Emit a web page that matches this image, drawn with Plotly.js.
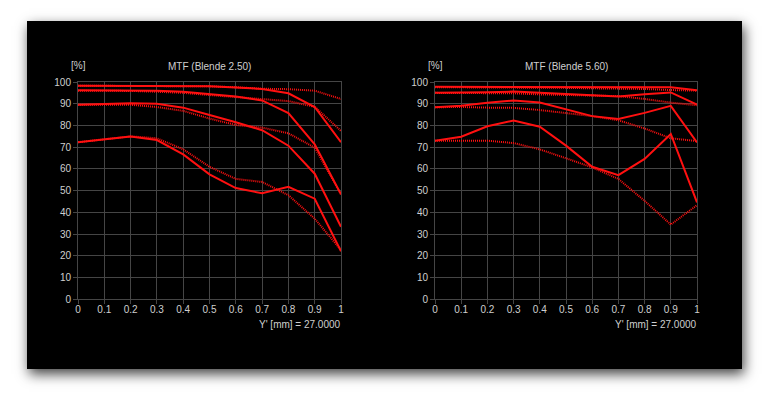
<!DOCTYPE html>
<html>
<head>
<meta charset="utf-8">
<script src="https://cdn.plot.ly/plotly-3.0.1.min.js"></script>
<style>
  html, body { margin: 0; padding: 0; background: #ffffff; width: 771px; height: 411px; overflow: hidden; }
  #panel { position: absolute; left: 27px; top: 21px; width: 715px; height: 348px; background: #000; box-shadow: 2px 5px 12px rgba(0,0,0,0.75); }
  #chart { position: absolute; left: 0; top: 0; width: 771px; height: 411px; }
</style>
</head>
<body>
<div id="panel"></div>
<div id="chart"></div>
<script>
// Image height Y' (normalised), 0 .. 1
const yPos = [0, 0.1, 0.2, 0.3, 0.4, 0.5, 0.6, 0.7, 0.8, 0.9, 1.0];

// Left chart: MTF (Blende 2.50) — solid (S) and dotted (D) curves
const f25_S1 = [98.3, 98.3, 98.3, 98.3, 98.2, 98.0, 97.5, 96.8, 94.8, 88.5, 72.3];
const f25_D1 = [98.3, 98.3, 98.3, 98.3, 98.2, 98.0, 97.6, 96.9, 96.7, 96.0, 92.2];
const f25_S2 = [96.2, 96.2, 96.1, 96.0, 95.5, 94.5, 93.3, 91.5, 85.7, 71.3, 48.3];
const f25_D2 = [96.0, 96.0, 95.9, 95.5, 95.0, 94.0, 93.0, 92.2, 91.2, 88.6, 77.5];
const f25_S3 = [89.5, 89.8, 90.2, 90.0, 88.2, 84.8, 81.5, 77.8, 70.7, 57.8, 33.4];
const f25_D3 = [89.5, 89.6, 89.5, 88.5, 86.7, 83.2, 80.2, 79.0, 76.4, 69.8, 48.3];
const f25_S4 = [72.3, 73.5, 74.9, 73.3, 66.7, 57.5, 51.2, 48.8, 51.8, 46.3, 22.1];
const f25_D4 = [72.3, 73.8, 75.0, 74.1, 69.0, 61.0, 55.4, 54.0, 47.9, 37.1, 22.7];

// Right chart: MTF (Blende 5.60)
const f56_S1 = [97.8, 97.8, 97.8, 97.8, 97.8, 97.7, 97.6, 97.5, 97.5, 97.6, 96.2];
const f56_D1 = [97.6, 97.6, 97.6, 97.6, 97.5, 97.3, 97.1, 97.0, 96.8, 96.3, 96.0];
const f56_S2 = [95.1, 95.1, 95.3, 95.6, 95.0, 94.5, 93.8, 93.3, 94.4, 95.2, 89.6];
const f56_D2 = [95.0, 95.0, 94.8, 94.8, 94.3, 94.0, 93.5, 93.5, 92.2, 90.5, 89.3];
const f56_S3 = [88.4, 89.1, 90.5, 91.5, 90.6, 87.6, 84.3, 83.0, 85.8, 89.0, 72.2];
const f56_D3 = [88.4, 88.5, 88.2, 88.1, 87.1, 85.8, 84.3, 82.4, 78.6, 74.1, 72.8];
const f56_S4 = [73.0, 74.8, 79.6, 82.3, 79.4, 70.7, 61.0, 57.1, 64.6, 76.1, 44.6];
const f56_D4 = [73.0, 73.0, 73.0, 71.9, 69.0, 64.9, 60.7, 55.4, 45.3, 34.4, 43.3];

const xTicks = [0, 0.1, 0.2, 0.3, 0.4, 0.5, 0.6, 0.7, 0.8, 0.9, 1];
const xTickText = ['0', '0.1', '0.2', '0.3', '0.4', '0.5', '0.6', '0.7', '0.8', '0.9', '1'];
const yTicks = [0, 10, 20, 30, 40, 50, 60, 70, 80, 90, 100];
const titles = ['MTF (Blende 2.50)', 'MTF (Blende 5.60)'];
const yUnit = '[%]';
const xLabel = "Y' [mm] = 27.0000";

const RED = '#ff1010';
function solid(y, xa, ya) {
  return { x: yPos, y: y, xaxis: xa, yaxis: ya, mode: 'lines', type: 'scatter',
           line: { color: RED, width: 2 }, hoverinfo: 'skip', showlegend: false };
}
function dotted(y, xa, ya) {
  return { x: yPos, y: y, xaxis: xa, yaxis: ya, mode: 'lines', type: 'scatter',
           line: { color: RED, width: 2, dash: '1px,1px' }, hoverinfo: 'skip', showlegend: false };
}

const data = [
  dotted(f25_D1, 'x', 'y'), dotted(f25_D2, 'x', 'y'), dotted(f25_D3, 'x', 'y'), dotted(f25_D4, 'x', 'y'),
  solid(f25_S1, 'x', 'y'), solid(f25_S2, 'x', 'y'), solid(f25_S3, 'x', 'y'), solid(f25_S4, 'x', 'y'),
  dotted(f56_D1, 'x2', 'y2'), dotted(f56_D2, 'x2', 'y2'), dotted(f56_D3, 'x2', 'y2'), dotted(f56_D4, 'x2', 'y2'),
  solid(f56_S1, 'x2', 'y2'), solid(f56_S2, 'x2', 'y2'), solid(f56_S3, 'x2', 'y2'), solid(f56_S4, 'x2', 'y2')
];

const GRID = '#454545';
const TXT = '#cfcfcf';
const FONT = { family: 'Liberation Sans, Arial, sans-serif', size: 10, color: TXT };

function xAxis(domain, anchor) {
  return { domain: domain, anchor: anchor, range: [0, 1], tickvals: xTicks, ticktext: xTickText,
           showgrid: true, gridcolor: GRID, gridwidth: 1, zeroline: false,
           showline: true, linecolor: GRID, linewidth: 1, mirror: true,
           ticks: 'outside', ticklen: 4, tickcolor: GRID, tickfont: FONT, fixedrange: true,
           ticklabelstandoff: -3 };
}
function yAxis(domain, anchor) {
  return { domain: domain, anchor: anchor, range: [0, 100], tickvals: yTicks,
           showgrid: true, gridcolor: GRID, gridwidth: 1, zeroline: false,
           showline: true, linecolor: GRID, linewidth: 1, mirror: true,
           ticks: 'outside', ticklen: 4, tickcolor: GRID, tickfont: FONT, fixedrange: true };
}

const W = 771, H = 411;
const L1 = 78 / W, R1 = 341 / W, L2 = 435 / W, R2 = 697 / W;
const YB = 1 - 299.3 / H, YT = 1 - 82 / H;

const layout = {
  width: W, height: H,
  margin: { l: 0, r: 0, t: 0, b: 0 },
  paper_bgcolor: 'rgba(0,0,0,0)',
  plot_bgcolor: '#000000',
  font: FONT,
  showlegend: false,
  xaxis: xAxis([L1, R1], 'y'),
  yaxis: yAxis([YB, YT], 'x'),
  xaxis2: xAxis([L2, R2], 'y2'),
  yaxis2: yAxis([YB, YT], 'x2'),
  annotations: [
    { text: titles[0], xref: 'paper', yref: 'paper', x: (L1 + R1) / 2, y: 1 - 66 / H, showarrow: false, xanchor: 'center', yanchor: 'middle', font: FONT },
    { text: titles[1], xref: 'paper', yref: 'paper', x: (L2 + R2) / 2, y: 1 - 66 / H, showarrow: false, xanchor: 'center', yanchor: 'middle', font: FONT },
    { text: yUnit, xref: 'paper', yref: 'paper', x: L1, y: 1 - 65 / H, showarrow: false, xanchor: 'center', yanchor: 'middle', font: FONT },
    { text: yUnit, xref: 'paper', yref: 'paper', x: L2, y: 1 - 65 / H, showarrow: false, xanchor: 'center', yanchor: 'middle', font: FONT },
    { text: xLabel, xref: 'paper', yref: 'paper', x: R1, y: 1 - 324 / H, showarrow: false, xanchor: 'right', yanchor: 'middle', font: FONT, xshift: 2 },
    { text: xLabel, xref: 'paper', yref: 'paper', x: R2, y: 1 - 324 / H, showarrow: false, xanchor: 'right', yanchor: 'middle', font: FONT, xshift: 2 }
  ]
};

Plotly.newPlot('chart', data, layout, { staticPlot: true, displayModeBar: false });
</script>
</body>
</html>
